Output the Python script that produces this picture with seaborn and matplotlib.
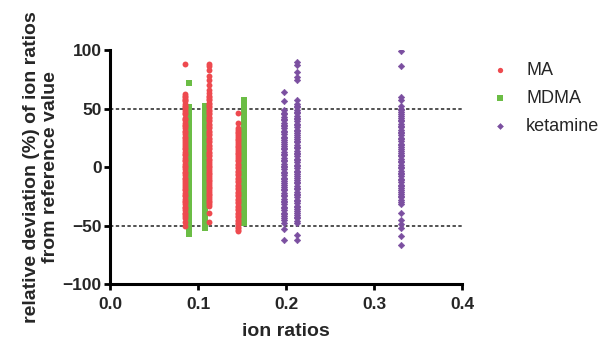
import matplotlib
matplotlib.use("Agg")
import matplotlib.pyplot as plt
import seaborn as sns
import pandas as pd
from matplotlib.ticker import FormatStrFormatter

# ---- data ----
ma_x = [0.085, 0.112, 0.145]
ma_y = [
    [88, 62, 61, 60, 58, 57, 56, 54, 52, 51, 50, 48, 46, 45, 42, 41, 40, 38, 36, 35,
     33, 31, 30, 28, 26, 25, 23, 21, 20, 18, 16, 15, 13, 11, 10, 8, 6, 5, 3, 1, 0, -2,
     -4, -5, -7, -9, -10, -12, -14, -15, -17, -19, -20, -22, -24, -25, -27, -29, -30,
     -32, -34, -35, -37, -39, -40, -42, -44, -47, -50],
    [88, 86, 83, 78, 74, 70, 66, 63, 61, 60, 58, 57, 55, 54, 52, 51, 49, 48, 46, 45,
     43, 42, 40, 39, 37, 36, 34, 33, 31, 30, 28, 27, 25, 24, 22, 21, 19, 18, 16, 15,
     13, 12, 10, 9, 7, 6, 4, 3, 1, 0, -2, -3, -5, -6, -8, -9, -11, -12, -14, -15, -17,
     -18, -20, -21, -23, -24, -26, -27, -29, -30, -32, -33, -39, -47],
    [46, 38, 33, 32, 30, 29, 27, 26, 24, 23, 21, 20, 18, 17, 15, 14, 12, 11, 9, 8, 6,
     5, 3, 2, 0, -1, -3, -4, -6, -7, -9, -10, -12, -13, -15, -16, -18, -19, -21, -22,
     -24, -25, -27, -28, -30, -31, -33, -34, -36, -37, -39, -40, -42, -43, -45, -46,
     -48, -49, -51, -52, -54, -55],
]
mdma_x = [0.090, 0.108, 0.152]
mdma_y = [
    [72, 51, 48, 45, 42, 39, 36, 33, 30, 27, 24, 21, 18, 15, 12, 9, 6, 3, 0, -3, -6,
     -9, -12, -15, -18, -21, -24, -27, -30, -33, -36, -39, -42, -45, -48, -51, -54, -57],
    [52, 49, 46, 43, 40, 37, 34, 31, 28, 25, 22, 19, 16, 13, 10, 7, 4, 1, -2, -5, -8,
     -11, -14, -17, -20, -23, -26, -29, -32, -35, -38, -41, -44, -47, -50, -52],
    [57, 54, 51, 48, 45, 42, 39, 36, 33, 30, 27, 24, 21, 18, 15, 12, 9, 6, 3, 0, -3,
     -6, -9, -12, -15, -18, -21, -24, -27, -30, -33, -36, -39, -42, -45, -48],
]
ket_x = [0.198, 0.212, 0.331]
ket_y = [
    [64, 56, 49, 46, 45, 43, 41, 40, 38, 36, 35, 33, 31, 30, 28, 26, 25, 23, 21, 20,
     18, 16, 15, 13, 11, 10, 8, 6, 5, 3, 1, 0, -2, -4, -5, -7, -9, -10, -12, -14, -15,
     -17, -19, -20, -22, -24, -25, -27, -29, -30, -32, -34, -35, -37, -39, -40, -42,
     -44, -45, -48, -53, -62],
    [90, 87, 81, 77, 74, 57, 54, 52, 51, 49, 47, 46, 44, 42, 41, 39, 37, 36, 34, 32,
     31, 29, 27, 26, 24, 22, 21, 19, 17, 16, 14, 12, 11, 9, 7, 6, 4, 2, 1, -1, -3, -4,
     -6, -8, -9, -11, -13, -14, -16, -18, -19, -21, -23, -24, -26, -28, -29, -31, -33,
     -34, -36, -38, -39, -41, -43, -44, -46, -48, -58, -62],
    [99, 86, 60, 57, 52, 50, 49, 47, 45, 44, 42, 40, 39, 37, 35, 34, 32, 30, 29, 27,
     25, 24, 22, 20, 19, 17, 15, 14, 12, 10, 9, 7, 5, 4, 2, 0, -1, -3, -5, -6, -8,
     -10, -11, -13, -15, -16, -18, -20, -21, -23, -25, -26, -28, -30, -32, -39, -45,
     -49, -52, -59, -67],
]
x_ticks = [0.0, 0.1, 0.2, 0.3, 0.4]
y_ticks = [-100, -50, 0, 50, 100]
ref_lines = [50, -50]


def frame(xs, ys, name):
    rows = []
    for xv, col in zip(xs, ys):
        for yv in col:
            rows.append((xv, yv, name))
    return pd.DataFrame(rows, columns=["ion ratio", "deviation", "drug"])


df_ma = frame(ma_x, ma_y, "MA")
df_mdma = frame(mdma_x, mdma_y, "MDMA")
df_ket = frame(ket_x, ket_y, "ketamine")

sns.set_style("ticks")
plt.rcParams["font.family"] = ["Liberation Sans", "DejaVu Sans"]

fig = plt.figure(figsize=(6.06, 3.49), dpi=100)
ax = fig.add_axes([0.1815, 0.1862, 0.581, 0.6705])

c_ma = "#EE4A4F"
c_mdma = "#6BBD45"
c_ket = "#7B4FA0"

sns.scatterplot(data=df_ma, x="ion ratio", y="deviation", color=c_ma, marker="o",
                s=18, linewidth=0, ax=ax, label="MA", zorder=4)
sns.scatterplot(data=df_mdma, x="ion ratio", y="deviation", color=c_mdma, marker="s",
                s=20, linewidth=0, ax=ax, label="MDMA", zorder=3)
sns.scatterplot(data=df_ket, x="ion ratio", y="deviation", color=c_ket, marker="D",
                s=11, linewidth=0.4, edgecolor=c_ket, ax=ax, label="ketamine", zorder=3)

for yv in ref_lines:
    ax.axhline(yv, color="#222222", lw=1.1, ls=(0, (2.2, 1.6)), zorder=1)

ax.set_xlim(0, 0.4)
ax.set_ylim(-100, 100)
ax.set_xticks(x_ticks)
ax.set_yticks(y_ticks)
ax.xaxis.set_major_formatter(FormatStrFormatter("%.1f"))
sns.despine(ax=ax)
for sp in ["left", "bottom"]:
    ax.spines[sp].set_linewidth(2.2)
    ax.spines[sp].set_color("black")
ax.tick_params(axis="both", direction="out", length=4, width=2.0, color="black",
               labelsize=12.5)
ax.tick_params(axis="x", pad=5.5)
ax.tick_params(axis="y", pad=2)
for lab in ax.get_xticklabels() + ax.get_yticklabels():
    lab.set_fontweight("bold")

ax.set_xlabel("ion ratios", fontsize=14, fontweight="bold", labelpad=7.5)
ax.set_ylabel("relative deviation (%) of ion ratios\nfrom reference value",
              fontsize=14, fontweight="bold", labelpad=2.5, linespacing=1.15)

if ax.legend_:
    ax.legend_.remove()
handles, labels = ax.get_legend_handles_labels()
fig.legend(handles, labels, loc="upper left", bbox_to_anchor=(0.776, 0.87),
           frameon=False, fontsize=13, markerscale=0.9, handletextpad=0.7,
           labelspacing=0.62, handlelength=1.5)

fig.savefig("out.png", dpi=100)
